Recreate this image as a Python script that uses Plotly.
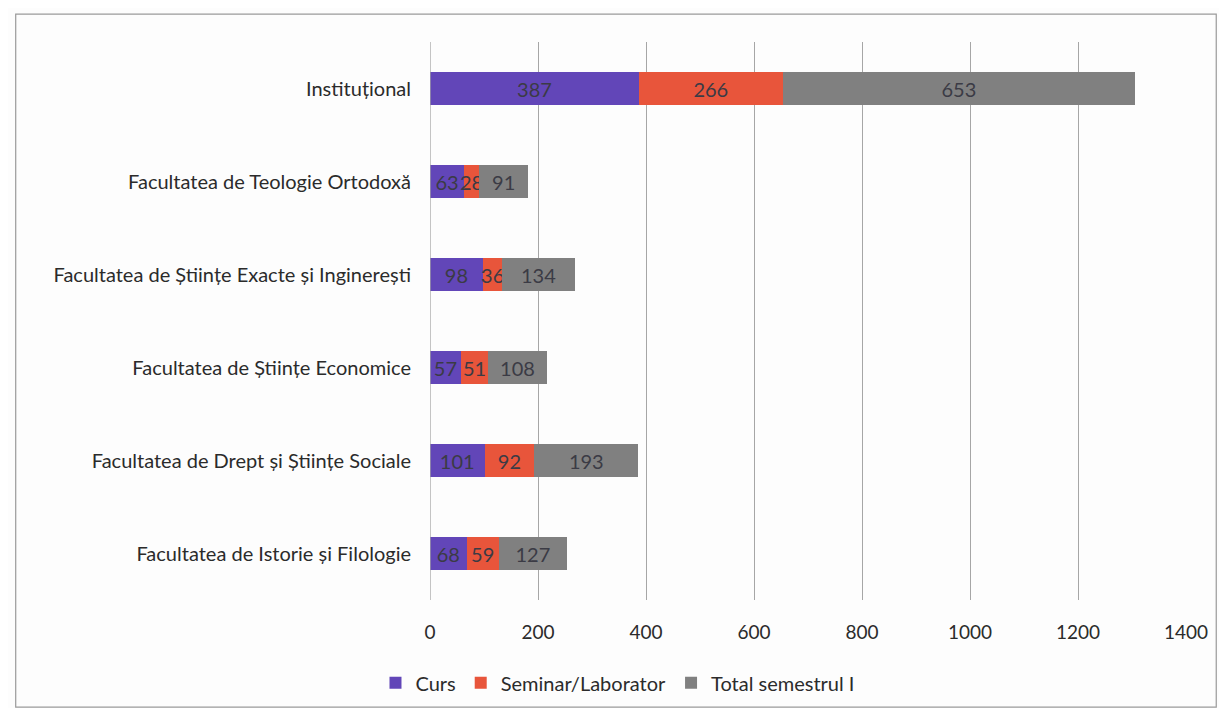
import plotly.graph_objects as go

categories = [
    "Facultatea de Istorie și Filologie",
    "Facultatea de Drept și Științe Sociale",
    "Facultatea de Științe Economice",
    "Facultatea de Științe Exacte și Inginerești",
    "Facultatea de Teologie Ortodoxă",
    "Instituțional",
]
curs = [68, 101, 57, 98, 63, 387]
seminar = [59, 92, 51, 36, 28, 266]
total = [127, 193, 108, 134, 91, 653]
series_names = ["Curs", "Seminar/Laborator", "Total semestrul I"]
colors = ["#6246B8", "#E8553B", "#808080"]
x_ticks = [0, 200, 400, 600, 800, 1000, 1200, 1400]

FONT = "Lato"
TXT = "#2b2b2b"
fig = go.Figure()
for name, vals, col in zip(series_names, [curs, seminar, total], colors):
    fig.add_trace(go.Bar(
        y=categories, x=vals, name=name, orientation="h",
        marker=dict(color=col, line=dict(width=0)),
        text=[str(v) for v in vals], textposition="inside",
        insidetextanchor="middle", constraintext="none",
        textfont=dict(family=FONT, size=20, color="#3b3b45"),
        cliponaxis=False,
    ))

fig.update_layout(
    width=1211, height=700,
    barmode="stack", bargap=0.64,
    paper_bgcolor="#fdfdfd", plot_bgcolor="#fdfdfd",
    margin=dict(l=422, r=33, t=34, b=108),
    font=dict(family=FONT, size=19, color=TXT),
    xaxis=dict(range=[0, 1400], tickvals=x_ticks, showgrid=True,
               gridcolor="#a6a6a6", gridwidth=1.3, zeroline=False,
               showline=False, ticklabelstandoff=19,
               tickfont=dict(family=FONT, size=19, color=TXT)),
    yaxis=dict(showgrid=False, showline=False, ticklabelstandoff=18,
               tickfont=dict(family=FONT, size=20, color=TXT)),
    legend=dict(orientation="h", x=0.248, xanchor="center",
                yref="container", y=0.036, yanchor="middle",
                bgcolor="rgba(0,0,0,0)",
                font=dict(family=FONT, size=20, color=TXT),
                itemwidth=30, traceorder="normal"),
    shapes=[dict(type="rect", xref="paper", yref="paper",
                 x0=-0.548, x1=1.040, y0=-0.192, y1=1.050,
                 line=dict(color="#9a9a9a", width=1.2), fillcolor="rgba(0,0,0,0)",
                 layer="below")],
)
fig.add_shape(type="line", xref="x", yref="paper", x0=0, x1=0, y0=0, y1=1,
              line=dict(color="#a6a6a6", width=1.3))
fig.write_html("out.html")
